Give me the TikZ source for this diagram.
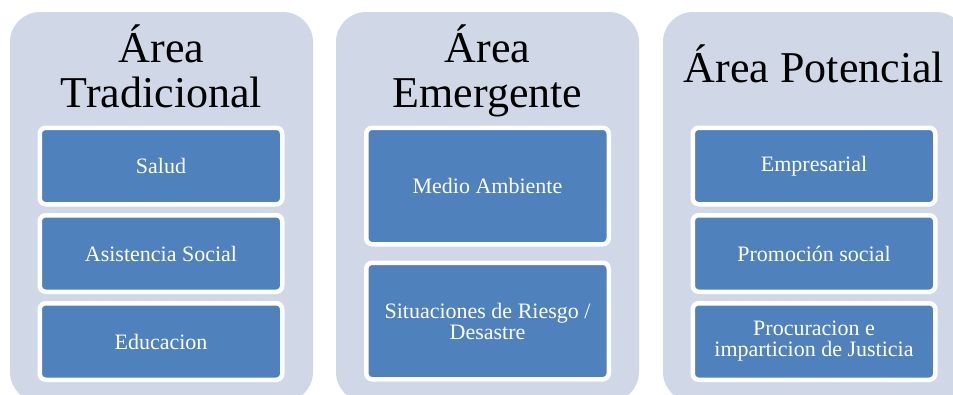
\documentclass[tikz,border=0pt]{standalone}
\usepackage{fontspec}
\setmainfont{Liberation Serif}
\definecolor{panelfill}{HTML}{D0D8E8}
\definecolor{boxfill}{HTML}{4F81BD}
\begin{document}
\begin{tikzpicture}[x=1pt,y=-1pt,
  panel/.style={fill=panelfill, rounded corners=30pt},
  itembox/.style={draw=white, line width=4.5pt, fill=boxfill, rounded corners=6pt,
    text=white, font=\fontsize{22}{21}\selectfont, align=center, inner sep=0pt,
    minimum width=242.5pt},
  shortbox/.style={itembox, minimum height=76.5pt},
  tallbox/.style={itembox, minimum height=116.5pt},
  title/.style={font=\fontsize{44}{46}\selectfont, anchor=base, inner sep=0pt, text=black}]
\useasboundingbox (0,0) rectangle (953,394);
\clip (0,0) rectangle (953,394);
% panels
\fill[panel] (10,12) rectangle (313,402);
\fill[panel] (336,12) rectangle (639,402);
\fill[panel] (663,12) rectangle (966,402);
% titles
\node[title] (t1a) at (161.5,62) {Área};
\node[title] (t1b) at (161.5,107) {Tradicional};
\node[title] (t2a) at (487.5,62) {Área};
\node[title] (t2b) at (487.5,107) {Emergente};
\node[title] (t3) at (814,82) {Área Potencial};
% panel 1 boxes
\node[shortbox] (salud) at (161,166) {Salud};
\node[shortbox] (asist) at (161,253.5) {Asistencia Social};
\node[shortbox] (educ) at (161,341.5) {Educacion};
% panel 2 boxes
\node[tallbox] (medio) at (487.5,186) {Medio Ambiente};
\node[tallbox] (riesgo) at (487.5,321) {Situaciones de Riesgo /\\Desastre};
% panel 3 boxes
\node[shortbox] (empr) at (814,166) {Empresarial};
\node[shortbox] (promo) at (814,253.5) {Promoción social};
\node[shortbox] (procu) at (814,341.5) {Procuracion e\\imparticion de Justicia};
\end{tikzpicture}
\end{document}
